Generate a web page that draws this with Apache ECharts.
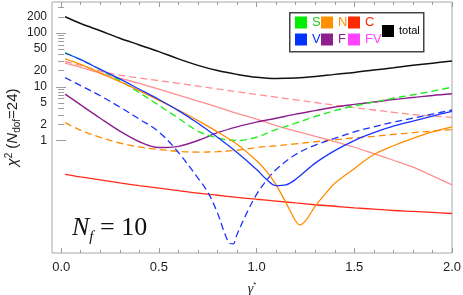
<!DOCTYPE html>
<html><head><meta charset="utf-8">
<script src="https://cdn.jsdelivr.net/npm/echarts@6/dist/echarts.min.js"></script>
<style>html,body{margin:0;padding:0;background:#fff}#c{width:463px;height:295px}</style>
</head><body><div id="c"></div>
<script>
// ---- data ----
const gamma = [0.02,0.1,0.2,0.3,0.4,0.5,0.6,0.7,0.8,0.9,1.0,1.1,1.2,1.3,1.4,1.5,1.6,1.7,1.8,1.9,2.0];
const chiTotal   = [200,150,110,80,60,45,33,25,20,17,15,14.2,14.5,15.5,17,18.5,20.5,22.5,25,27.5,30];
const chiS       = [43,32,21,13,7.8,4.5,2.6,1.5,1.12,1.0,1.15,1.6,2.1,2.8,3.6,4.4,5.2,6.1,7.1,8.3,9.8];
const chiF       = [7.3,4.6,2.6,1.5,0.95,0.74,0.78,1.0,1.4,1.8,2.2,2.6,3.1,3.6,4.2,4.7,5.2,5.8,6.3,6.9,7.4];
const chiC       = [0.235,0.21,0.185,0.163,0.145,0.13,0.117,0.105,0.096,0.088,0.081,0.075,0.069,0.064,0.06,0.056,0.053,0.05,0.048,0.046,0.044];
const chiFV      = [27.5,23,18,14.5,11.5,9,7,5.4,4.2,3.2,2.5,1.9,1.5,1.2,0.95,0.75,0.57,0.43,0.32,0.22,0.15];
const chiFVdash  = [29.5,25,19.5,16.5,14.5,13,11.6,10.3,9.1,8.1,7.2,6.4,5.7,5.1,4.55,4.1,3.7,3.35,3.05,2.85,2.7];
const chiNdash   = [2.15,1.55,1.15,0.9,0.76,0.68,0.63,0.61,0.62,0.66,0.74,0.8,0.87,0.95,1.03,1.12,1.2,1.3,1.4,1.5,1.6];

const gammaV  = [0.02,0.1,0.2,0.3,0.4,0.5,0.6,0.7,0.8,0.9,1.0,1.05,1.1,1.15,1.2,1.3,1.4,1.5,1.6,1.7,1.8,1.9,2.0];
const chiV    = [42,32,21,14,9,5.8,3.6,2.1,1.15,0.6,0.29,0.19,0.145,0.15,0.19,0.38,0.65,1.0,1.4,1.85,2.3,2.85,3.5];

const gammaN  = [0.02,0.1,0.2,0.3,0.4,0.5,0.6,0.7,0.8,0.9,1.0,1.05,1.1,1.15,1.2,1.22,1.25,1.3,1.35,1.4,1.5,1.6,1.7,1.8,1.9,2.0];
const chiN    = [33,26,18,12.5,8.5,5.6,3.7,2.35,1.45,0.85,0.42,0.27,0.15,0.07,0.032,0.027,0.032,0.06,0.1,0.16,0.3,0.55,0.8,1.1,1.45,1.8];

const gammaVd = [0.02,0.1,0.2,0.3,0.4,0.5,0.6,0.7,0.75,0.8,0.83,0.86,0.88,0.9,0.95,1.0,1.05,1.1,1.2,1.3,1.4,1.5,1.6,1.7,1.8,1.9,2.0];
const chiVdash= [14.8,10.5,6.8,4.2,2.5,1.45,0.6,0.2,0.11,0.045,0.022,0.0125,0.012,0.018,0.045,0.1,0.18,0.29,0.55,0.82,1.1,1.45,1.8,2.2,2.6,3.1,3.7];

// ---- axis ticks / labels ----
const xLabelVals = [0, 0.5, 1.0, 1.5, 2.0];
const xMinorTicks = [0,0.1,0.2,0.3,0.4,0.5,0.6,0.7,0.8,0.9,1.0,1.1,1.2,1.3,1.4,1.5,1.6,1.7,1.8,1.9,2.0];
const yLabelVals = [1, 2, 5, 10, 20, 50, 100, 200];
const yMajorTicks = [1, 10, 100];
const yMinorTicks = [];
yMajorTicks.forEach(d => { for (let m = 2; m <= 9; m++) yMinorTicks.push(m * d); });

const pairs = (xs, ys) => xs.map((x, i) => [x, ys[i]]);

const C = {
  S: '#22ee22', N: '#ff8c00', C: '#ff2a1a', V: '#1a33ff', F: '#8e1f8e',
  FV: '#ff8f8f', total: '#111111'
};

const FONT = 'Liberation Sans';
const tickColor = '#9a9a9a';

function yAx(pos, ticks, len, labels) {
  return {
    type: 'log', position: pos, min: 0.0081, max: 377,
    axisLine: {show: false}, splitLine: {show: false},
    axisTick: {show: true, inside: true, length: len, customValues: ticks, lineStyle: {color: tickColor}},
    axisLabel: labels ? {show: true, customValues: yLabelVals, margin: 5, fontFamily: FONT, fontSize: 12, color: '#222',
      formatter: v => String(Math.round(v))} : {show: false}
  };
}
function xAx(pos, ticks, len, labels) {
  return {
    type: 'value', position: pos, min: -0.047, max: 2.0,
    axisLine: {show: false}, splitLine: {show: false},
    axisTick: {show: true, inside: true, length: len, customValues: ticks, lineStyle: {color: tickColor}},
    axisLabel: labels ? {show: true, customValues: xLabelVals, margin: 8, fontFamily: FONT, fontSize: 13, color: '#222',
      formatter: v => v.toFixed(1)} : {show: false}
  };
}

const xAxes = [xAx('bottom', xMinorTicks, 3, true), xAx('bottom', xLabelVals, 5, false),
               xAx('top', xMinorTicks, 3, false), xAx('top', xLabelVals, 5, false)];
xAxes[0].name = '{g|γ}{s|*}';
xAxes[0].nameLocation = 'middle';
xAxes[0].nameGap = 28;
xAxes[0].nameMoveOverlap = false;
xAxes[0].nameTextStyle = {fontFamily: 'Liberation Serif', color: '#222',
  rich: {g: {fontFamily: 'Liberation Serif', fontStyle: 'italic', fontSize: 14, lineHeight: 16},
         s: {fontFamily: FONT, fontSize: 8, verticalAlign: 'top', lineHeight: 16}}};

const yAxes = [yAx('left', yMinorTicks, 3, true), yAx('left', yMajorTicks, 5, false),
               yAx('right', yMinorTicks, 3, false), yAx('right', yMajorTicks, 5, false)];
yAxes[0].name = '{i|χ}{sp|2}{n| (}{i|N}{sb|dof}{n|=24)}';
yAxes[0].nameLocation = 'middle';
yAxes[0].nameRotate = 90;
yAxes[0].nameGap = 30;
yAxes[0].nameMoveOverlap = false;
yAxes[0].nameTextStyle = {fontFamily: FONT, color: '#222',
  rich: {i: {fontFamily: FONT, fontStyle: 'italic', fontSize: 15, lineHeight: 18, verticalAlign: 'middle'},
         n: {fontFamily: FONT, fontSize: 15, lineHeight: 18, verticalAlign: 'middle'},
         sp: {fontFamily: FONT, fontSize: 10, lineHeight: 18, verticalAlign: 'top'},
         sb: {fontFamily: FONT, fontSize: 10, lineHeight: 18, verticalAlign: 'bottom'}}};

function line(name, xs, ys, color, dashed, width) {
  return {
    name, type: 'line', xAxisIndex: 0, yAxisIndex: 0, data: pairs(xs, ys),
    showSymbol: false, symbol: 'none', smooth: 0.35, silent: true,
    lineStyle: {color, width: width || 1.3, type: dashed ? [7, 4] : 'solid'},
    itemStyle: {color}
  };
}

const series = [
  line('C', gamma, chiC, C.C, false),
  line('FV', gamma, chiFV, C.FV, false),
  line('FV dashed', gamma, chiFVdash, C.FV, true),
  line('N dashed', gamma, chiNdash, C.N, true),
  line('F', gamma, chiF, C.F, false, 1.4),
  line('S', gamma, chiS, C.S, true, 1.4),
  line('V dashed', gammaVd, chiVdash, C.V, true),
  line('N', gammaN, chiN, C.N, false),
  line('V', gammaV, chiV, C.V, false),
  line('total', gamma, chiTotal, C.total, false, 1.5)
];

function leg(name, left, top, fill, txt, fs) {
  return {
    left, top, padding: 0, itemWidth: 12, itemHeight: 12, itemGap: 0, icon: 'rect', selectedMode: false,
    data: [{name, itemStyle: {color: fill, borderWidth: 0}, textStyle: {color: txt, fontFamily: FONT, fontSize: fs || 13}}]
  };
}

const option = {
  animation: false,
  backgroundColor: '#fff',
  grid: {left: 52, top: 2, width: 400, height: 251, show: true, borderColor: '#a8a8a8', borderWidth: 1,
         backgroundColor: 'transparent', containLabel: false, outerBoundsMode: 'none'},
  xAxis: xAxes,
  yAxis: yAxes,
  legend: [
    leg('S', 295, 16, '#00ee00', '#22cc22'),
    leg('N', 321, 16, '#ff9100', '#ff9100'),
    leg('C', 348, 16, '#ff2a00', '#ff2a00'),
    leg('V', 295, 33, '#0033ff', '#0033ff'),
    leg('F', 321, 33, '#8e1f8e', '#8e1f8e'),
    leg('FV', 348, 33, '#ff44ff', '#ff44ff'),
    leg('total', 382, 25, '#000', '#000', 11)
  ],
  title: {
    left: 72, top: 212, padding: 0,
    text: '{i|N}{s|f}{r| = 10}',
    textStyle: {fontWeight: 'normal', rich: {
      i: {fontFamily: 'Liberation Serif', fontStyle: 'italic', fontWeight: 'normal', fontSize: 26, color: '#111', lineHeight: 29},
      s: {fontFamily: 'Liberation Serif', fontStyle: 'italic', fontWeight: 'normal', fontSize: 15, color: '#111', verticalAlign: 'bottom', lineHeight: 33},
      r: {fontFamily: 'Liberation Serif', fontWeight: 'normal', fontSize: 26, color: '#111', lineHeight: 29}
    }}
  },
  graphic: [{type: 'rect', left: 289, top: 12, shape: {width: 134, height: 39}, z: 2,
             style: {fill: '#fff', stroke: '#444', lineWidth: 1.5}}],
  series
};
const chart = echarts.init(document.getElementById('c'), null, {renderer: 'canvas'});
chart.setOption(option);
</script></body></html>
